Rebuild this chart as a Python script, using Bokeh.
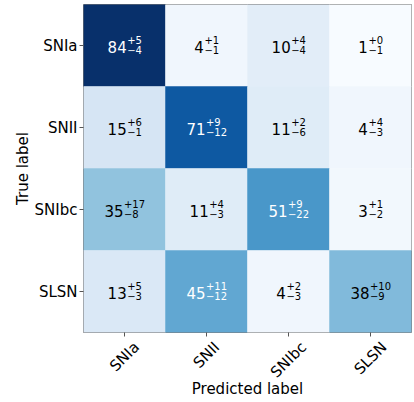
import math
from bokeh.plotting import figure
from bokeh.models import (ColumnDataSource, LinearColorMapper, FactorRange, Range1d,
                          FixedTicker)
from bokeh.transform import transform
from bokeh.palettes import Blues256
from bokeh.core.properties import value
from bokeh.embed import file_html
from bokeh.resources import INLINE

# ---- data ----
classes = ["SNIa", "SNII", "SNIbc", "SLSN"]
# rows = true label, columns = predicted label
values = [[84, 4, 10, 1],
          [15, 71, 11, 4],
          [35, 11, 51, 3],
          [13, 45, 4, 38]]
err_plus = [[5, 1, 4, 0],
            [6, 9, 2, 4],
            [17, 4, 9, 1],
            [5, 11, 2, 10]]
err_minus = [[4, 1, 4, 1],
             [1, 12, 6, 3],
             [8, 3, 22, 2],
             [3, 12, 3, 9]]
x_title = "Predicted label"
y_title = "True label"

# ---- styling constants ----
FONT = "DejaVu Sans"
LABEL_PX = 15
MAIN_PX = 15
SCRIPT_PX = 10
DIGIT_EM = 0.636
SIGN_EM = 0.838
CHAR_EM = {"S": 0.635, "N": 0.748, "I": 0.295, "a": 0.613, "b": 0.635, "c": 0.550, "L": 0.557}
FRAME_PX = 328
CELL_PX = FRAME_PX / len(classes)

vmin = min(min(r) for r in values)
vmax = max(max(r) for r in values)
thresh = vmax / 2.0

xs, ys, vals, mains, sups, subs, colors = [], [], [], [], [], [], []
main_dx, script_dx = [], []
for i, t in enumerate(classes):
    for j, pcls in enumerate(classes):
        v = values[i][j]
        ms = str(v)
        sp = "+" + str(err_plus[i][j])
        sb = "\u2212" + str(err_minus[i][j])
        main_w = len(ms) * DIGIT_EM * MAIN_PX
        sw = max(SIGN_EM + (len(sp) - 1) * DIGIT_EM, SIGN_EM + (len(sb) - 1) * DIGIT_EM) * SCRIPT_PX
        left = -(main_w + sw) / 2.0
        anchor = left + main_w
        xs.append(j + 0.5)
        ys.append(t)
        vals.append(v)
        mains.append(ms)
        sups.append(sp)
        subs.append(sb)
        colors.append("white" if v > thresh else "black")
        main_dx.append(anchor)
        script_dx.append(anchor + 0.5)

src = ColumnDataSource(dict(x=xs, y=ys, v=vals, main=mains, sup=sups, sub=subs,
                            tc=colors, mdx=main_dx, sdx=script_dx))

mapper = LinearColorMapper(palette=list(Blues256)[::-1], low=vmin, high=vmax)

p = figure(x_range=Range1d(0, len(classes)), y_range=FactorRange(*classes[::-1]),
           width=414, height=402,
           min_border_left=83, min_border_right=3, min_border_top=4, min_border_bottom=70,
           output_backend="svg", toolbar_location=None)

p.rect(x="x", y="y", width=1, height=1, source=src,
       fill_color=transform("v", mapper), line_color=transform("v", mapper), line_width=0.5)

p.text(x="x", y="y", text="main", source=src, text_color="tc",
       text_font=value(FONT), text_font_size=f"{MAIN_PX}px",
       text_align="right", text_baseline="alphabetic", x_offset="mdx", y_offset=1.5)
p.text(x="x", y="y", text="sup", source=src, text_color="tc",
       text_font=value(FONT), text_font_size=f"{SCRIPT_PX}px",
       text_align="left", text_baseline="alphabetic", x_offset="sdx", y_offset=-6)
p.text(x="x", y="y", text="sub", source=src, text_color="tc",
       text_font=value(FONT), text_font_size=f"{SCRIPT_PX}px",
       text_align="left", text_baseline="alphabetic", x_offset="sdx", y_offset=4)

p.grid.visible = False
p.outline_line_color = "#7a7a7a"
p.outline_line_width = 1
p.background_fill_color = "white"
p.border_fill_color = "white"

for ax in (p.xaxis[0], p.yaxis[0]):
    ax.axis_line_color = None
    ax.major_tick_in = 0
    ax.major_tick_out = 4
    ax.major_tick_line_color = "#555555"
    ax.major_label_text_font = FONT
    ax.major_label_text_font_size = f"{LABEL_PX}px"
    ax.major_label_text_color = "black"
    ax.axis_label_text_font = FONT
    ax.axis_label_text_font_size = f"{LABEL_PX}px"
    ax.axis_label_text_font_style = "normal"
    ax.axis_label_text_color = "black"

p.yaxis.minor_tick_line_color = None
p.yaxis.major_label_standoff = 2
p.yaxis.axis_label = y_title
p.yaxis.axis_label_standoff = 0

# x axis: rotated labels are anchored at their end by Bokeh, so the label ticks are
# shifted by half the rotated text width to centre each label under its column;
# the visible tick marks (minor ticks) sit at the column centres.
rot = math.pi / 4
centers = [j + 0.5 for j in range(len(classes))]
label_pos = []
overrides = {}
for j, c in enumerate(classes):
    w = sum(CHAR_EM.get(ch, 0.6) for ch in c) * LABEL_PX
    pos = centers[j] + (w / 2.0) * math.cos(rot) / CELL_PX
    label_pos.append(pos)
    overrides[pos] = c
p.xaxis.ticker = FixedTicker(ticks=label_pos, minor_ticks=centers)
p.xaxis.major_label_overrides = overrides
p.xaxis.major_label_orientation = rot
p.xaxis.major_tick_line_color = None
p.xaxis.minor_tick_in = 0
p.xaxis.minor_tick_out = 4
p.xaxis.minor_tick_line_color = "#555555"
p.xaxis.major_label_standoff = 8
p.xaxis.axis_label = x_title
p.xaxis.axis_label_standoff = -11

open("out.html", "w").write(file_html(p, INLINE))
